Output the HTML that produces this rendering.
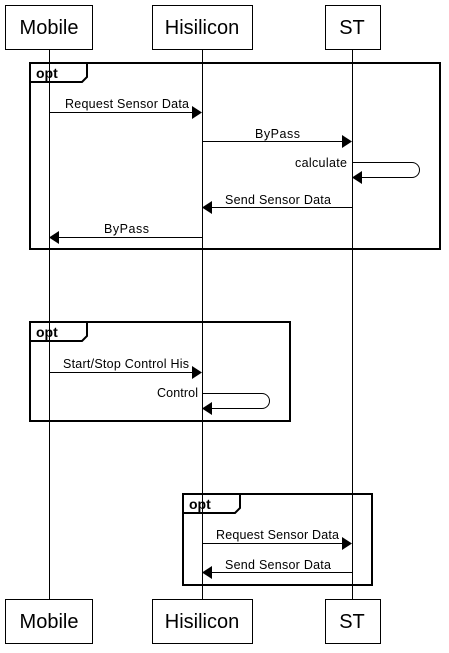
<!DOCTYPE html>
<html><head><style>body{margin:0;background:#fff}</style></head><body>
<svg width="449" height="648" xmlns="http://www.w3.org/2000/svg" font-family="Liberation Sans, Arial, sans-serif">
<g stroke="#000" stroke-width="1" fill="none">
<line x1="49.5" y1="49" x2="49.5" y2="599"/>
<line x1="202.5" y1="49" x2="202.5" y2="599"/>
<line x1="352.5" y1="49" x2="352.5" y2="599"/>
<rect x="5.5" y="5.5" width="87" height="44" fill="#fff"/>
<rect x="152.5" y="5.5" width="100" height="44" fill="#fff"/>
<rect x="325.5" y="5.5" width="55" height="44" fill="#fff"/>
<rect x="5.5" y="599.5" width="87" height="44" fill="#fff"/>
<rect x="152.5" y="599.5" width="100" height="44" fill="#fff"/>
<rect x="325.5" y="599.5" width="55" height="44" fill="#fff"/>
</g>
<g font-size="20" text-anchor="middle">
<text x="49" y="34">Mobile</text><text x="202" y="34">Hisilicon</text><text x="352" y="34">ST</text>
<text x="49" y="628">Mobile</text><text x="202" y="628">Hisilicon</text><text x="352" y="628">ST</text>
</g>
<g stroke="#000" stroke-width="2" fill="none">
<rect x="30" y="63" width="410" height="186"/>
<path d="M30 82 H82 L87 77 V63"/>
<rect x="30" y="322" width="260" height="99"/>
<path d="M30 341 H82 L87 336 V322"/>
<rect x="183" y="494" width="189" height="91"/>
<path d="M183 513 H235 L240 508 V494"/>
</g>
<g font-size="14" font-weight="bold">
<text x="36" y="78">opt</text><text x="36" y="337">opt</text><text x="189" y="509">opt</text>
</g>
<g stroke="#000" stroke-width="1" fill="none">
<line x1="49" y1="112.5" x2="194" y2="112.5"/>
<line x1="202" y1="141.5" x2="344" y2="141.5"/>
<path d="M352 162.5 H412 A7 7 0 0 1 412 177.5 H360"/>
<line x1="210" y1="207.5" x2="352" y2="207.5"/>
<line x1="57" y1="237.5" x2="202" y2="237.5"/>
<line x1="49" y1="372.5" x2="194" y2="372.5"/>
<path d="M202 393.5 H262 A7 7 0 0 1 262 408.5 H210"/>
<line x1="202" y1="543.5" x2="344" y2="543.5"/>
<line x1="210" y1="572.5" x2="352" y2="572.5"/>
</g>
<g fill="#000">
<polygon points="192,106 202,112.5 192,119"/>
<polygon points="342,135 352,141.5 342,148"/>
<polygon points="362,171 352,177.5 362,184"/>
<polygon points="212,201 202,207.5 212,214"/>
<polygon points="59,231 49,237.5 59,244"/>
<polygon points="192,366 202,372.5 192,379"/>
<polygon points="212,402 202,408.5 212,415"/>
<polygon points="342,537 352,543.5 342,550"/>
<polygon points="212,566 202,572.5 212,579"/>
</g>
<g font-size="12.5" lengthAdjust="spacingAndGlyphs">
<text x="65" y="108" textLength="124">Request Sensor Data</text>
<text x="255" y="138" textLength="45">ByPass</text>
<text x="295" y="167" textLength="52">calculate</text>
<text x="225" y="204" textLength="106">Send Sensor Data</text>
<text x="104" y="233" textLength="45">ByPass</text>
<text x="63" y="368" textLength="126">Start/Stop Control His</text>
<text x="157" y="397" textLength="41">Control</text>
<text x="216" y="539" textLength="123">Request Sensor Data</text>
<text x="225" y="569" textLength="106">Send Sensor Data</text>
</g>
</svg>
</body></html>
